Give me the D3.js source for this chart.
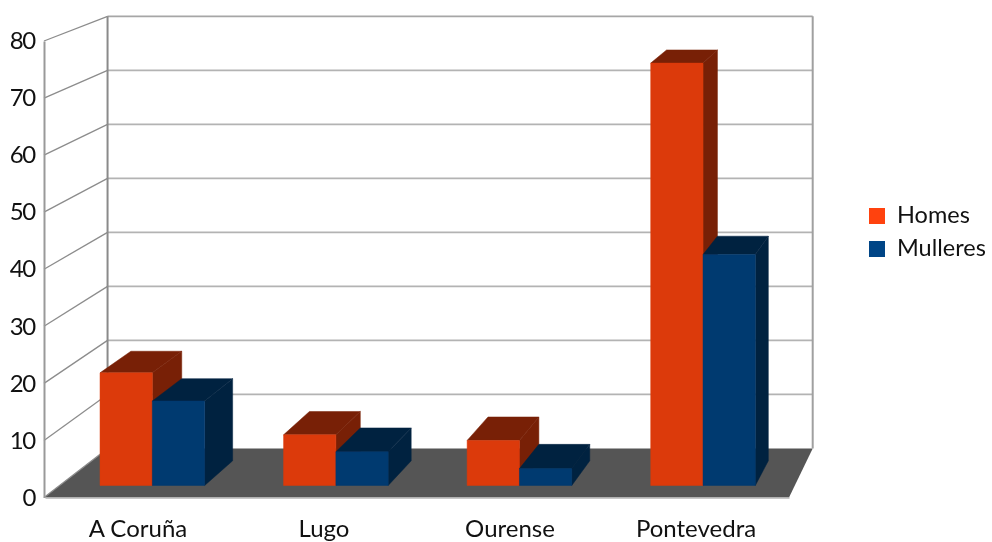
<!DOCTYPE html>
<html><head><meta charset="utf-8">
<script src="https://cdnjs.cloudflare.com/ajax/libs/d3/7.8.5/d3.min.js"></script>
<style>html,body{margin:0;padding:0;background:#fff}svg{display:block;filter:blur(.45px)}
text{font-family:Lato,"Open Sans",sans-serif;fill:#111}</style></head><body>
<svg id="c" width="992" height="542"></svg>
<script>
const categories = ["A Coruña","Lugo","Ourense","Pontevedra"];
const seriesNames = ["Homes","Mulleres"];
const homes = [20,9,8,75];
const mulleres = [15,6,3,41];
const yTicks = [0,10,20,30,40,50,60,70,80];
const seriesColors = ["#ff420e","#004586"];
const frontColors = ["#dc3a0b","#003a70"];
const shadeColors = ["#782006","#002240"];

const svg = d3.select("#c");
const x0 = d3.scaleBand().domain(categories).range([45,789]).paddingInner(.43).paddingOuter(.215);
const x1 = d3.scaleBand().domain(seriesNames).range([0,x0.bandwidth()]);
const y = d3.scaleLinear().domain([0,80]).range([497.5,41]);
const V = [1232,-420], tBack = .0535, tBar0 = .0131, tBar1 = .04;
const P = (fx,fy,t) => [fx+t*(V[0]-fx), fy+t*(V[1]-fy)];
const poly = pts => "M"+pts.map(p=>p.join(",")).join("L")+"Z";

// floor
svg.append("path").attr("fill","#555555")
  .attr("d",poly([P(44,y(0),0),P(44,y(0),tBack),P(789,y(0),tBack),P(789,y(0),0)]));

// gridlines
const grid = svg.append("g").attr("fill","none");
yTicks.filter(v=>v>0).forEach(v=>{
  const a=P(44,y(v),0), b=P(44,y(v),tBack), c=P(789,y(v),tBack);
  grid.append("path").attr("d",`M${a}L${b}`).attr("stroke","#8c8c8c").attr("stroke-width",1.3);
  grid.append("path").attr("d",`M${b}L${c}`).attr("stroke",v===80?"#a6a6a6":"#b3b3b3").attr("stroke-width",1.6);
});
yTicks.filter(v=>v===0).forEach(v=>{
  const a=P(44,y(v),0), b=P(44,y(v),tBack);
  grid.append("path").attr("d",`M${a}L${b}`).attr("stroke","#8c8c8c").attr("stroke-width",1.3);
});
// wall edges
const bl0=P(44,y(0),tBack), bl1=P(44,y(80),tBack), br0=P(789,y(0),tBack), br1=P(789,y(80),tBack);
grid.append("path").attr("d",`M${bl0}L${bl1}`).attr("stroke","#8a8a8a").attr("stroke-width",2);
grid.append("path").attr("d",`M${br0}L${br1}`).attr("stroke","#a0a0a0").attr("stroke-width",2);

// bars
const series = [homes,mulleres];
categories.forEach((cat,i)=>{
  series.forEach((vals,s)=>{
    const g = svg.append("g").attr("stroke-width",.5);
    const l = x0(cat)+x1(seriesNames[s]), r = l+x1.bandwidth();
    const yb = y(0), yt = y(vals[i]);
    g.append("path").attr("fill",shadeColors[s]).attr("stroke",shadeColors[s])
      .attr("d",poly([P(r,yb,tBar0),P(r,yb,tBar1),P(r,yt,tBar1),P(r,yt,tBar0)]));
    g.append("path").attr("fill",shadeColors[s]).attr("stroke",shadeColors[s])
      .attr("d",poly([P(l,yt,tBar0),P(l,yt,tBar1),P(r,yt,tBar1),P(r,yt,tBar0)]));
    g.append("path").attr("fill",frontColors[s]).attr("stroke",frontColors[s])
      .attr("d",poly([P(l,yb,tBar0),P(l,yt,tBar0),P(r,yt,tBar0),P(r,yb,tBar0)]));
  });
});

// axes
const ay = svg.append("g").attr("transform","translate(44,0)")
  .call(d3.axisLeft(y).tickValues(yTicks).tickSize(0).tickPadding(9));
ay.select(".domain").attr("stroke","#999").attr("stroke-width",2);
ay.selectAll("text").attr("font-size",24).attr("letter-spacing",-1.3).style("font-family","Lato");
const ax = svg.append("g").attr("transform","translate(0,497.5)")
  .call(d3.axisBottom(x0.copy().paddingInner(0).paddingOuter(0)).tickSize(0).tickPadding(22));
ax.select(".domain").attr("stroke","#b5b5b5").attr("stroke-width",1.5);
ax.selectAll("text").attr("font-size",24).style("font-family","Lato");

// legend
const lg = svg.append("g").selectAll("g").data(seriesNames).join("g")
  .attr("transform",(d,i)=>`translate(869,${208+i*33})`);
lg.append("rect").attr("width",16).attr("height",16).attr("fill",(d,i)=>seriesColors[i]);
lg.append("text").attr("x",28).attr("y",7).attr("dy",".35em").attr("font-size",23.5).text(d=>d);
</script></body></html>
